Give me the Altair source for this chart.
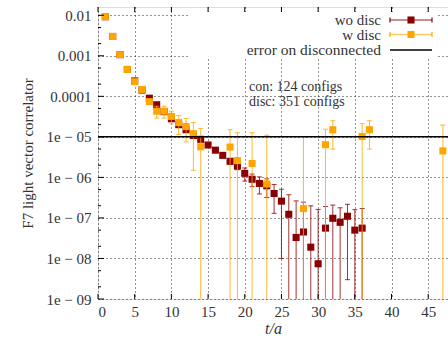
import altair as alt
import pandas as pd

# ---------------- data ----------------
t_wo = list(range(1, 37))
v_wo = [0.0092, 0.003, 0.00107, 0.00046, 0.00024, 0.000143, 9.0e-5, 6.2e-5, 4.2e-5, 2.8e-5,
        2.0e-5, 1.5e-5, 1.08e-5, 8.7e-6, 6.3e-6, 4.7e-6, 3.5e-6, 2.5e-6, 1.9e-6, 1.26e-6,
        9.0e-7, 7.1e-7, 6.2e-7, 4.0e-7, 2.6e-7, 1.23e-7, 3.3e-8, 4.5e-8, 1.9e-8, 7.4e-9,
        5.6e-8, 9.8e-8, 7.8e-8, 1.1e-7, 5.0e-8, 5.6e-8]
e_wo = [1e-4, 4e-5, 1.5e-5, 7e-6, 4e-6, 3e-6, 2.5e-6, 2e-6, 1.6e-6, 1.3e-6,
        1.1e-6, 1e-6, 9e-7, 6e-7, 5e-7, 4.5e-7, 4e-7, 4e-7, 3.5e-7, 4.5e-7,
        3.1e-7, 3.2e-7, 3.0e-7, 2.7e-7, 2.5e-7, 2.5e-7, 2.3e-7, 2.0e-7, 1.8e-7, 1.55e-7,
        1.35e-7, 1.1e-7, 1.0e-7, 1.07e-7, 1.1e-7, 1.15e-7]

t_w = [1, 2, 3, 4, 5, 6, 7, 8, 9, 10, 11, 12, 13, 14, 18, 19, 21, 23, 28, 31, 32, 36, 37, 47]
v_w = [0.0093, 0.003, 0.00107, 0.00046, 0.00023, 0.000148, 7.4e-5, 4.3e-5, 4.3e-5, 3.2e-5,
       2.25e-5, 1.8e-5, 1.2e-5, 5.7e-6, 5.6e-6, 2.6e-6, 2.2e-6, 6.9e-7, 1.7e-7, 6.4e-6,
       1.5e-5, 1.02e-5, 1.5e-5, 4.5e-6]
e_w = [1e-4, 4e-5, 1.5e-5, 1e-5, 1e-5, 1e-5, 1e-5, 1.4e-5, 1.4e-5, 1.1e-5,
       1.1e-5, 1.05e-5, 1.05e-5, 1.05e-5, 9.5e-6, 1.0e-5, 1.05e-5, 1.03e-5, 9.8e-6, 9.1e-6,
       1.0e-5, 1.1e-5, 1.0e-5, 1.5e-5]

disc_error = 1e-5
x_ticks = [0, 5, 10, 15, 20, 25, 30, 35, 40, 45]
y_ticks = [1e-9, 1e-8, 1e-7, 1e-6, 1e-5, 1e-4, 1e-3, 1e-2]
y_minor = [m * 10.0 ** k for k in range(-9, -2) for m in (2, 5)]

RED = "#8B0000"
ORANGE = "#FFA500"
FONT = "Liberation Serif"
FLOOR = 1e-12


def frame(t, v, e):
    df = pd.DataFrame({"t": t, "v": v, "e": e})
    df["hi"] = df["v"] + df["e"]
    lo = df["v"] - df["e"]
    df["has_lo"] = lo > 0
    df["lo"] = lo.where(lo > 0, FLOOR)
    return df


df_wo = frame(t_wo, v_wo, e_wo)
df_w = frame(t_w, v_w, e_w)

xs = alt.Scale(domain=[0, 47.7], nice=False, zero=False)
ys = alt.Scale(type="log", domain=[1e-9, 0.016], nice=False)

xaxis = alt.Axis(values=x_ticks, title="t/a", titleFontStyle="italic", ticks=False, domain=False,
                 labelPadding=5, titlePadding=1, grid=True, gridDash=[1, 3], gridColor="#000",
                 gridOpacity=0.85, labelFont=FONT, titleFont=FONT, labelFontSize=15, titleFontSize=16,
                 titleFontWeight="normal", labelColor="#333", titleColor="#333")
yaxis = alt.Axis(values=y_ticks, title="F7 light vector correlator", ticks=False, domain=False,
                 labelPadding=7, titlePadding=10, grid=True, gridDash=[1, 3], gridColor="#000",
                 gridOpacity=0.85, labelFont=FONT, titleFont=FONT, labelFontSize=15, titleFontSize=15,
                 titleFontWeight="normal", labelColor="#333", titleColor="#333",
                 labelExpr="datum.value >= 0.00009 ? (datum.value > 0.005 ? '0.01' : (datum.value > 0.0005 ? '0.001' : '0.0001')) : '1e − 0' + toString(-round(log(datum.value)/LN10))")

X = lambda: alt.X("t:Q", scale=xs, axis=xaxis)

one = pd.DataFrame({"a": [0]})

# white legend box (covers grid lines)
legend_box = alt.Chart(one).mark_rect(color="white").encode(
    x=alt.value(90), x2=alt.value(339), y=alt.value(5), y2=alt.value(50))


def series(df, color):
    base = alt.Chart(df)
    bars = base.mark_rule(color=color, strokeWidth=1, opacity=0.8, clip=True).encode(
        x=X(), y=alt.Y("lo:Q", scale=ys, axis=yaxis), y2="hi:Q")
    cap_hi = base.mark_tick(color=color, orient="horizontal", size=5, thickness=1, opacity=0.8, clip=True).encode(
        x=X(), y=alt.Y("hi:Q", scale=ys, axis=yaxis))
    cap_lo = base.transform_filter("datum.has_lo").mark_tick(
        color=color, orient="horizontal", size=5, thickness=1, opacity=0.8, clip=True).encode(
        x=X(), y=alt.Y("lo:Q", scale=ys, axis=yaxis))
    pts = base.mark_square(color=color, size=50, opacity=1, clip=True).encode(
        x=X(), y=alt.Y("v:Q", scale=ys, axis=yaxis))
    return [bars, cap_hi, cap_lo, pts]


hline = alt.Chart(pd.DataFrame({"y": [disc_error]})).mark_rule(color="black", strokeWidth=1.5).encode(
    y=alt.Y("y:Q", scale=ys, axis=yaxis))

# inward ticks
ymaj = alt.Chart(pd.DataFrame({"y": y_ticks})).mark_rule(color="black", strokeWidth=1).encode(
    y=alt.Y("y:Q", scale=ys, axis=yaxis), x=alt.value(0), x2=alt.value(6))
ymin = alt.Chart(pd.DataFrame({"y": y_minor})).mark_rule(color="black", strokeWidth=1).encode(
    y=alt.Y("y:Q", scale=ys, axis=yaxis), x=alt.value(0), x2=alt.value(3))
xbot = alt.Chart(pd.DataFrame({"t": x_ticks})).mark_rule(color="black", strokeWidth=1).encode(
    x=X(), y=alt.value(292), y2=alt.value(287))
xtop = alt.Chart(pd.DataFrame({"t": x_ticks})).mark_rule(color="black", strokeWidth=1).encode(
    x=X(), y=alt.value(0), y2=alt.value(5))


def text(s, x, y, align="right", size=15):
    return alt.Chart(one).mark_text(text=s, font=FONT, fontSize=size, align=align, baseline="middle",
                                    color="#333").encode(x=alt.value(x), y=alt.value(y))


legend_layers = []
for i, (lab, col) in enumerate([("wo disc", RED), ("w disc", ORANGE)]):
    yy = 13 + 14.5 * i
    legend_layers += [
        text(lab, 283, yy),
        alt.Chart(one).mark_rule(color=col, strokeWidth=1.5, opacity=0.6).encode(
            x=alt.value(292), x2=alt.value(334), y=alt.value(yy)),
        alt.Chart(one).mark_rule(color=col, strokeWidth=1.5, opacity=0.8).encode(
            x=alt.value(292), y=alt.value(yy - 2.5), y2=alt.value(yy + 2.5)),
        alt.Chart(one).mark_rule(color=col, strokeWidth=1.5, opacity=0.8).encode(
            x=alt.value(334), y=alt.value(yy - 2.5), y2=alt.value(yy + 2.5)),
        alt.Chart(one).mark_square(color=col, size=50, opacity=1).encode(
            x=alt.value(313), y=alt.value(yy)),
    ]
legend_layers += [
    text("error on disconnected", 283, 43, size=15.5),
    alt.Chart(one).mark_rule(color="black", strokeWidth=1.5).encode(
        x=alt.value(292), x2=alt.value(334), y=alt.value(43)),
    text("con: 124 configs", 151, 79.5, "left", size=14),
    text("disc: 351 configs", 151, 94.5, "left", size=14),
]

layers = [legend_box] + series(df_wo, RED) + series(df_w, ORANGE) + [hline, ymaj, ymin, xbot, xtop] + legend_layers

chart = alt.layer(*layers).properties(
    width=350, height=292,
    padding={"left": 98, "top": 7, "right": 0, "bottom": 40},
    autosize=alt.AutoSizeParams(type="none"),
).configure_view(stroke="#111", strokeWidth=1.5).configure(background="white")

chart.save("out.html", embed_options={"renderer": "svg", "actions": False})
